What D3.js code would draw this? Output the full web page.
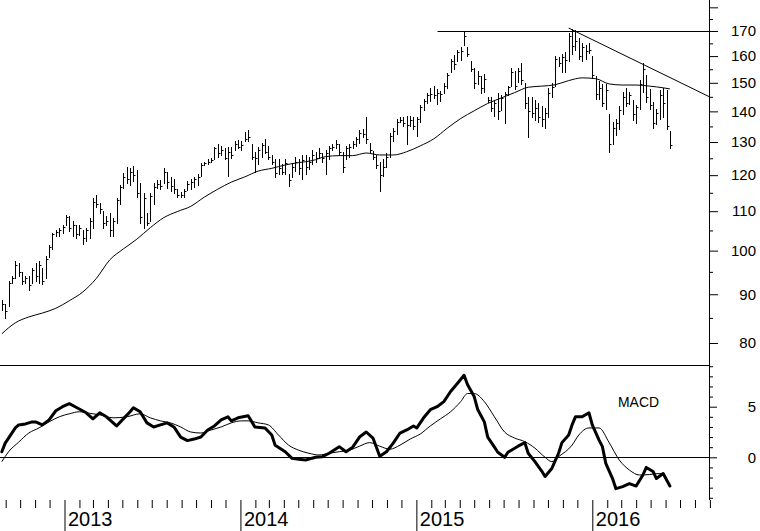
<!DOCTYPE html>
<html><head><meta charset="utf-8">
<script src="https://cdn.jsdelivr.net/npm/d3@7"></script>
<style>
html,body{margin:0;padding:0;background:#fff;}
svg{display:block;font-family:"Liberation Sans",Arial,sans-serif;}
</style>
</head><body>
<svg id="chart" width="760" height="531"></svg>
<script>
// ---------- DATA (weekly bars, first bar week of 2012-08-24) ----------
const firstWeek = "2012-08-24";
const highs = [
88.7,88.0,93.0,94.0,97.5,97.0,95.0,94.0,94.0,96.0,
97.0,97.5,96.0,98.7,101.4,104.4,105.2,105.7,106.5,109.1,
108.8,107.3,106.5,106.3,105.2,105.7,108.3,113.5,114.4,112.3,
110.0,108.8,109.5,108.3,113.5,117.2,120.5,122.5,122.0,122.8,
121.4,117.7,115.0,109.5,115.0,117.7,118.5,118.5,122.0,121.0,
119.6,119.0,116.0,115.3,116.0,118.3,119.0,119.5,120.3,123.5,
124.0,124.7,125.2,128.3,129.3,128.8,128.0,128.3,128.3,130.2,
130.7,130.2,133.2,133.7,129.3,126.8,128.3,129.8,131.0,128.8,
126.0,124.7,124.7,123.3,124.7,120.3,123.5,125.5,124.7,126.0,
126.0,125.5,127.5,126.8,128.0,126.5,127.5,128.8,129.3,130.7,
129.3,126.8,128.8,129.3,130.2,131.6,133.7,134.0,138.0,129.8,
127.3,126.0,124.0,124.7,126.5,133.0,134.6,137.5,138.0,138.0,
138.6,138.6,138.0,138.0,142.0,144.3,146.3,148.0,148.7,147.6,
147.0,149.8,153.5,159.0,160.6,162.5,163.5,170.0,163.5,158.0,
155.5,154.2,152.5,153.3,145.0,145.0,144.0,146.5,145.6,146.8,
149.0,155.5,154.2,155.5,157.5,150.0,145.0,145.0,144.0,143.0,
141.8,141.0,148.0,150.0,160.0,159.5,161.0,161.5,169.2,171.0,
170.4,167.0,165.0,164.3,165.0,160.0,152.5,150.7,149.6,149.6,
139.0,136.5,137.5,141.8,146.8,148.2,146.8,144.0,142.0,151.0,
157.5,153.0,147.8,143.3,140.8,147.4,148.0,147.5,133.6];
const lows = [
86.6,85.0,87.5,92.5,93.7,94.0,92.3,92.5,91.0,92.5,
93.0,92.4,92.3,93.7,98.5,100.5,103.6,103.6,104.4,106.5,
104.9,103.6,103.1,103.8,101.7,102.4,103.1,105.7,111.0,109.5,
105.7,106.3,103.6,103.6,107.0,111.8,116.4,117.7,117.2,118.3,
113.8,107.0,105.7,106.3,107.5,111.8,116.4,116.0,117.7,116.4,
115.5,115.0,113.8,113.8,113.8,115.8,116.0,116.6,117.2,119.8,
123.0,123.3,124.0,124.7,125.5,126.0,124.7,119.8,125.2,127.5,
128.0,127.5,130.2,130.2,124.7,121.0,123.3,125.5,126.5,124.7,
123.3,119.5,120.3,120.3,120.3,117.0,119.5,121.2,120.3,119.0,
120.3,121.7,123.3,124.0,125.2,123.8,120.3,124.7,127.5,128.0,
126.0,121.0,124.7,125.5,128.0,128.8,129.8,131.6,129.8,126.8,
124.7,122.0,115.5,119.8,122.3,125.5,130.2,132.5,136.6,135.0,
129.3,135.0,134.0,132.0,136.6,140.6,143.0,143.6,144.6,142.6,
143.6,146.3,148.0,154.0,155.0,158.0,158.5,164.3,160.0,154.3,
148.3,149.4,146.5,146.8,143.3,140.0,138.6,137.5,140.6,136.0,
145.6,148.7,147.6,150.4,149.5,141.0,131.7,138.0,137.0,136.5,
135.0,134.5,138.0,145.0,148.8,156.3,154.0,154.0,158.3,161.0,
162.4,159.0,158.0,159.0,161.3,151.6,144.4,144.4,141.8,140.8,
127.0,129.3,132.2,134.3,139.0,141.8,142.4,137.0,136.0,140.8,
146.8,143.3,140.8,134.4,135.8,137.5,138.0,134.0,128.0];
const closes = [
88.0,86.5,92.5,93.5,96.5,95.0,93.0,93.5,92.0,95.5,
94.0,96.5,93.0,98.0,101.0,104.0,104.5,105.0,106.0,108.5,
105.5,106.5,104.0,105.5,103.0,105.0,107.5,112.5,112.0,110.5,
107.0,107.5,105.0,107.5,113.0,116.5,119.5,119.0,121.0,120.0,
115.0,108.5,113.5,107.0,114.0,116.5,117.5,117.0,121.0,118.0,
117.0,116.0,114.5,114.5,115.5,117.5,118.0,119.0,119.5,123.0,
123.5,124.0,124.5,128.0,126.5,127.5,125.0,127.0,126.0,129.5,
128.5,129.0,131.0,131.5,125.5,125.0,127.5,129.0,127.0,125.5,
124.0,120.5,122.0,121.0,123.5,118.5,122.5,124.0,122.0,124.5,
122.5,124.0,126.0,125.0,126.5,125.0,126.5,128.0,128.5,129.5,
127.0,122.5,128.0,128.5,129.5,131.0,133.0,132.5,131.0,127.5,
125.5,123.0,120.0,122.5,125.5,132.0,133.5,136.5,137.0,136.0,
135.5,137.0,135.0,137.5,141.5,143.5,145.5,146.0,145.5,146.5,
146.0,149.0,153.0,158.0,157.0,161.5,162.0,168.0,161.0,155.0,
150.0,152.5,148.0,151.5,144.0,141.0,143.0,140.0,144.5,146.0,
148.5,154.0,149.0,154.5,151.0,143.0,140.0,139.5,141.0,138.0,
137.5,139.5,146.5,148.5,159.0,157.5,159.5,158.5,168.0,164.0,
166.0,160.0,163.5,162.0,162.5,153.0,146.0,148.0,143.0,147.5,
129.5,134.5,136.0,140.5,145.0,143.0,145.5,139.0,141.5,149.5,
155.0,145.0,142.0,136.0,139.5,145.5,143.0,135.0,129.0];

// 40-week moving average (week index -> value)
const maWeeks  = [0,4,8,12,16,20,24,28,32,36,40,44,48,52,56,60,64,68,72,76,80,84,88,92,96,100,104,108,112,116,120,124,128,132,136,140,144,148,152,156,160,164,168,172,176,180,184,188,192,196,198];
const maValues = [81.8,84.0,85.2,86.0,87.0,88.6,90.5,93.5,97.8,100.4,102.8,105.7,108.3,109.9,111.3,113.8,116.0,118.0,119.5,121.2,122.0,123.0,123.7,124.3,125.5,125.8,125.8,126.6,126.0,126.0,127.0,128.8,131.0,134.4,137.6,140.2,142.7,144.6,146.5,148.4,148.8,149.3,150.8,151.8,151.5,149.6,149.2,149.2,148.8,148.2,147.8];

// MACD (thick) and signal (thin)
const macdWeeks  = [0,1,4,5,7,9,10,12,14,16,18,20,22,25,27,29,31,34,36,38,39,41,43,45,47,49,51,53,55,57,59,61,63,65,67,68,70,73,75,78,80,81,84,86,88,90,93,95,97,100,102,104,106,108,110,112,114,116,118,120,122,123,125,127,129,131,133,135,137,138,140,141,143,144,146,147,149,150,152,153,155,156,158,160,161,163,165,166,168,169,170,172,173,174,175,177,178,179,181,182,184,186,188,190,191,193,194,196,198];
const macdValues = [0.55,1.4,2.9,3.2,3.3,3.5,3.5,3.2,3.7,4.6,5.0,5.3,4.95,4.4,3.8,4.4,4.0,3.1,3.8,4.5,4.9,4.5,3.4,3.0,3.2,3.4,3.0,2.0,1.65,1.8,2.0,2.7,3.1,3.7,4.0,3.6,3.9,4.1,3.0,2.9,2.2,1.2,0.55,-0.1,-0.2,-0.27,0.0,0.06,0.4,1.05,0.55,1.0,2.0,2.5,1.9,0.1,0.55,1.4,2.4,2.7,3.1,2.9,3.9,4.7,5.0,5.5,6.5,7.3,8.1,7.2,6.0,4.75,3.5,2.0,1.0,0.5,0.0,0.5,0.9,1.1,1.45,0.4,-0.43,-1.36,-1.9,-1.1,0.4,1.45,2.2,3.2,4.0,4.0,4.2,4.4,3.2,1.7,1.05,-0.6,-2.1,-3.1,-2.9,-2.6,-2.84,-1.75,-1.0,-1.4,-2.1,-1.6,-2.84];
const signalWeeks  = [0,2,5,8,11,14,17,20,23,26,29,33,37,41,44,47,50,53,56,59,62,65,68,71,73,76,79,82,85,88,91,94,97,100,103,106,109,112,115,118,121,124,127,130,133,136,138,140,143,146,149,152,155,158,161,163,165,169,171,174,177,180,183,186,189,192,195,197];
const signalValues = [-0.43,0.55,1.5,2.4,2.9,3.5,4.0,4.3,4.5,4.35,4.2,3.9,4.0,4.3,3.9,3.6,3.4,3.0,2.5,2.4,2.7,3.0,3.4,3.6,3.6,3.4,3.2,2.2,1.2,0.7,0.4,0.23,0.4,0.55,0.7,1.1,1.45,1.1,0.8,1.2,1.8,2.3,3.1,3.8,4.5,5.5,6.3,6.3,5.5,4.0,2.5,1.9,1.55,0.9,0.0,-0.43,0.06,1.2,2.2,2.9,2.9,1.45,-0.27,-1.26,-1.75,-1.7,-1.6,-2.0];

// Axis ticks and labels
const priceMajorTicks = [80,90,100,110,120,130,140,150,160,170,180];
const priceLabels = [80,90,100,110,120,130,140,150,160,170];
const priceMinorTicks = [85,95,105,115,125,135,145,155,165,175];
const macdMinorTicks = [-4,-3,-2,-1,1,2,3,4,6,7,8,9];
const macdMajorTicks = [0,5];
const yearTicks = ["2013-01-01","2014-01-01","2015-01-01","2016-01-01"];
const indicatorLabel = "MACD";

// Drawn lines
const resistanceLevel = 170;
const resistanceFrom = "2015-02-14";
const trendFrom = {date: "2015-11-13", value: 171.2};
const trendTo   = {date: "2016-08-30", value: 145.1};

// ---------- LAYOUT ----------
const W = 760, H = 531;
const axisX = 709;
const priceTop = 0, priceBottom = 365;
const macdBottom = 500;

const svg = d3.select("#chart");

const x = d3.scaleUtc()
  .domain([new Date("2013-01-01"), new Date("2016-01-01")])
  .range([64.5, 592.3]);
const yP = d3.scaleLog().domain([80, 170]).range([343, 31]);
const yM = d3.scaleLinear().domain([0, 5]).range([457.3, 406.7]);

const start = new Date(firstWeek);
const weekDate = i => d3.utcDay.offset(start, 7 * i);
const bars = highs.map((h, i) => ({date: weekDate(i), high: h, low: lows[i], close: closes[i]}));

const crisp = v => Math.round(v) + 0.5;

// ---------- PRICE PANEL ----------
const gBars = svg.append("g").attr("stroke", "#000").attr("stroke-width", 1).attr("fill", "none");
bars.forEach(b => {
  const bx = crisp(x(b.date));
  gBars.append("line").attr("x1", bx).attr("x2", bx)
    .attr("y1", Math.round(yP(b.high))).attr("y2", Math.round(yP(b.low)) + 1);
  const cy = crisp(yP(b.close));
  gBars.append("line").attr("x1", bx).attr("x2", bx + 2).attr("y1", cy).attr("y2", cy);
});

// moving average
const maLine = d3.line().x(d => x(weekDate(d[0]))).y(d => yP(d[1])).curve(d3.curveMonotoneX);
svg.append("path").datum(maWeeks.map((w, i) => [w, maValues[i]]))
  .attr("d", maLine).attr("fill", "none").attr("stroke", "#000").attr("stroke-width", 1);

// resistance line
svg.append("line")
  .attr("x1", x(new Date(resistanceFrom))).attr("x2", axisX)
  .attr("y1", crisp(yP(resistanceLevel))).attr("y2", crisp(yP(resistanceLevel)))
  .attr("stroke", "#000").attr("stroke-width", 1);

// down trend line
svg.append("line")
  .attr("x1", x(new Date(trendFrom.date))).attr("y1", yP(trendFrom.value))
  .attr("x2", x(new Date(trendTo.date))).attr("y2", yP(trendTo.value))
  .attr("stroke", "#000").attr("stroke-width", 1);

// separator
svg.append("line").attr("x1", 0).attr("x2", axisX).attr("y1", priceBottom + 0.5).attr("y2", priceBottom + 0.5)
  .attr("stroke", "#000").attr("stroke-width", 1);

// ---------- MACD PANEL ----------
svg.append("line").attr("x1", 0).attr("x2", axisX)
  .attr("y1", crisp(yM(0))).attr("y2", crisp(yM(0)))
  .attr("stroke", "#000").attr("stroke-width", 1);

const sigLine = d3.line().x(d => x(weekDate(d[0]))).y(d => yM(d[1])).curve(d3.curveMonotoneX);
svg.append("path").datum(signalWeeks.map((w, i) => [w, signalValues[i]]))
  .attr("d", sigLine).attr("fill", "none").attr("stroke", "#000").attr("stroke-width", 1);

const macdLine = d3.line().x(d => x(weekDate(d[0]))).y(d => yM(d[1]));
svg.append("path").datum(macdWeeks.map((w, i) => [w, macdValues[i]]))
  .attr("d", macdLine).attr("fill", "none").attr("stroke", "#000").attr("stroke-width", 3)
  .attr("stroke-linejoin", "round").attr("stroke-linecap", "round");

svg.append("text").attr("x", 618).attr("y", 407)
  .attr("font-size", 15).attr("textLength", 41).attr("lengthAdjust", "spacingAndGlyphs")
  .attr("fill", "#000").text(indicatorLabel);

// ---------- RIGHT AXES ----------
svg.append("line").attr("x1", axisX + 0.5).attr("x2", axisX + 0.5).attr("y1", 0).attr("y2", macdBottom)
  .attr("stroke", "#000").attr("stroke-width", 1);

function styleAxis(g) {
  g.select(".domain").remove();
  g.selectAll("line").attr("stroke", "#000");
  g.selectAll("text").attr("fill", "#000");
}

svg.append("g").attr("transform", `translate(${axisX},0)`)
  .call(d3.axisRight(yP).tickValues(priceMinorTicks).tickSize(4).tickFormat(""))
  .call(styleAxis);
svg.append("g").attr("transform", `translate(${axisX},0)`)
  .call(d3.axisRight(yP).tickValues(priceMajorTicks).tickSize(9)
    .tickFormat(d => priceLabels.includes(d) ? d : ""))
  .call(styleAxis)
  .call(g => g.selectAll("text").attr("x", 47).attr("text-anchor", "end")
    .attr("font-size", 15).attr("font-family", "Liberation Sans, Arial, sans-serif"));

svg.append("g").attr("transform", `translate(${axisX},0)`)
  .call(d3.axisRight(yM).tickValues(macdMinorTicks).tickSize(4).tickFormat(""))
  .call(styleAxis);
svg.append("g").attr("transform", `translate(${axisX},0)`)
  .call(d3.axisRight(yM).tickValues(macdMajorTicks).tickSize(8).tickFormat(d3.format("d")))
  .call(styleAxis)
  .call(g => g.selectAll("text").attr("x", 47).attr("text-anchor", "end")
    .attr("font-size", 15).attr("font-family", "Liberation Sans, Arial, sans-serif"));

// ---------- TIME AXIS ----------
const years = yearTicks.map(d => new Date(d));
const months = d3.utcMonth.range(new Date("2012-08-01"), new Date("2016-10-01"))
  .filter(d => d.getUTCMonth() !== 0 && x(d) >= 0 && x(d) <= axisX + 2);

svg.append("g").attr("transform", `translate(0,${macdBottom})`)
  .call(d3.axisBottom(x).tickValues(months).tickSize(8).tickFormat(""))
  .call(styleAxis);
svg.append("g").attr("transform", `translate(0,${macdBottom})`)
  .call(d3.axisBottom(x).tickValues(years).tickSize(31).tickFormat(d3.utcFormat("%Y")))
  .call(styleAxis)
  .call(g => g.selectAll("text").attr("x", 3).attr("y", 12).attr("dy", "0.71em")
    .attr("text-anchor", "start").attr("font-size", 20)
    .attr("font-family", "Liberation Sans, Arial, sans-serif"));
</script>
</body></html>
